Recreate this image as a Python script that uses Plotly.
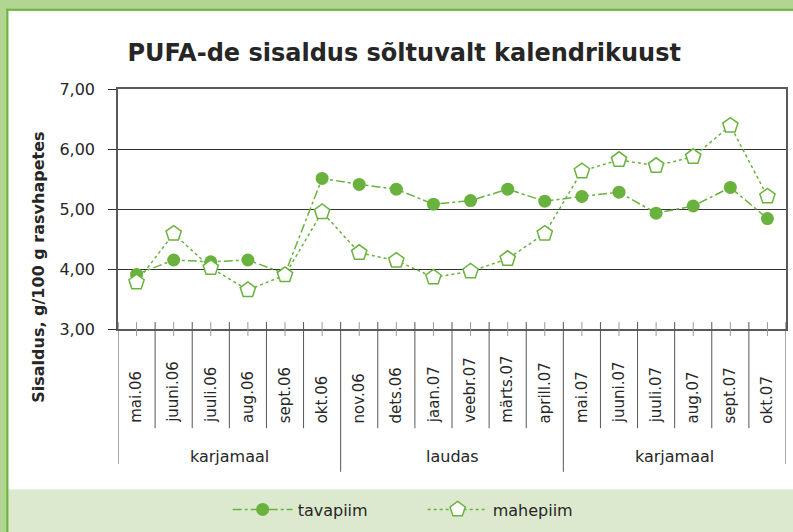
import plotly.graph_objects as go

# PUFA content by calendar month
months = [
    "mai.06", "juuni.06", "juuli.06", "aug.06", "sept.06", "okt.06",
    "nov.06", "dets.06", "jaan.07", "veebr.07", "märts.07", "aprill.07",
    "mai.07", "juuni.07", "juuli.07", "aug.07", "sept.07", "okt.07",
]
tavapiim = [3.91, 4.15, 4.12, 4.15, 3.92, 5.51, 5.41, 5.33, 5.08, 5.14, 5.33, 5.13,
            5.21, 5.28, 4.93, 5.05, 5.36, 4.84]
mahepiim = [3.78, 4.59, 4.02, 3.65, 3.90, 4.95, 4.27, 4.14, 3.86, 3.96, 4.17, 4.59,
            5.63, 5.82, 5.72, 5.87, 6.39, 5.21]
groups = ["karjamaal", "laudas", "karjamaal"]
group_sizes = [6, 6, 6]

GREEN = "#6ab23e"
TEXT = "#262626"
FONT = "DejaVu Sans"

W, H = 793, 532
L, R, T, B = 118, 788, 89, 331  # plot area in pixels


def px(x):
    return (x - L) / (R - L)


def py(y):
    return (B - y) / (B - T)


x_idx = list(range(len(months)))

fig = go.Figure()
fig.add_trace(go.Scatter(
    x=x_idx, y=tavapiim, name="tavapiim", mode="lines+markers",
    line=dict(color=GREEN, width=1.5, dash="dashdot"),
    marker=dict(symbol="circle", size=13, color=GREEN),
))
fig.add_trace(go.Scatter(
    x=x_idx, y=mahepiim, name="mahepiim", mode="lines+markers",
    line=dict(color=GREEN, width=1.5, dash="dot"),
    marker=dict(symbol="pentagon", size=16, color="white",
                line=dict(color=GREEN, width=1.5)),
))

shapes = []
# frame: white card, green borders, legend band
shapes.append(dict(type="rect", xref="paper", yref="paper", layer="below",
                   x0=px(8), x1=px(W + 20), y0=py(10), y1=py(493),
                   fillcolor="white", line=dict(width=0)))
shapes.append(dict(type="rect", xref="paper", yref="paper", layer="below",
                   x0=px(8), x1=px(W + 20), y0=py(493), y1=py(H + 20),
                   fillcolor="#dde9cf", line=dict(width=0)))
shapes.append(dict(type="line", xref="paper", yref="paper", layer="below",
                   x0=px(7), x1=px(7), y0=py(8), y1=py(H + 20),
                   line=dict(color="#6db33f", width=2)))
shapes.append(dict(type="line", xref="paper", yref="paper", layer="below",
                   x0=px(6), x1=px(W + 20), y0=py(9), y1=py(9),
                   line=dict(color="#6db33f", width=2)))

# category ticks and dividers
for i in x_idx:
    shapes.append(dict(type="line", xref="x", yref="paper", x0=i, x1=i,
                       y0=py(324), y1=py(338), line=dict(color="#999999", width=1)))
bounds = [-0.5]
for s in group_sizes:
    bounds.append(bounds[-1] + s)
for i in range(len(months) + 1):
    xb = i - 0.5
    if xb in bounds:
        bottom = 467 if xb in (bounds[0], bounds[-1]) else 475
    else:
        bottom = 431
    shapes.append(dict(type="line", xref="x", yref="paper", x0=xb, x1=xb,
                       y0=py(324), y1=py(bottom), line=dict(color="#555555", width=1)))

annotations = []
for i, m in enumerate(months):
    annotations.append(dict(x=i, y=py(428), xref="x", yref="paper", text=m,
                            textangle=-90, showarrow=False, yanchor="bottom",
                            xanchor="center", font=dict(size=15, color=TEXT, family=FONT)))
for g, a, b in zip(groups, bounds[:-1], bounds[1:]):
    annotations.append(dict(x=(a + b) / 2, y=py(460), xref="x", yref="paper", text=g,
                            showarrow=False, yanchor="middle",
                            font=dict(size=16, color=TEXT, family=FONT)))
annotations.append(dict(x=px(38), y=py(269), xref="paper", yref="paper",
                        xanchor="center", yanchor="middle",
                        text="<b>Sisaldus, g/100 g rasvhapetes</b>", textangle=-90,
                        showarrow=False, font=dict(size=16, color=TEXT, family=FONT)))

fig.update_layout(
    width=W, height=H,
    margin=dict(l=L, r=W - R, t=T, b=H - B),
    paper_bgcolor="#b2d592",
    plot_bgcolor="white",
    separators=", ",
    font=dict(family=FONT, color=TEXT),
    title=dict(text="<b>PUFA-de sisaldus sõltuvalt kalendrikuust</b>",
               font=dict(size=24, color=TEXT, family=FONT),
               xref="paper", x=px(405), xanchor="center",
               yref="container", y=1 - 53 / H, yanchor="middle"),
    xaxis=dict(range=[-0.5, len(months) - 0.5], showticklabels=False, ticks="",
               showgrid=False, zeroline=False, showline=True, mirror=True,
               linecolor="#5a5a5a", linewidth=1.5),
    yaxis=dict(range=[3, 7], dtick=1, tickformat=".2f", ticks="outside", ticklen=8,
               tickcolor="#333333", showgrid=True, gridcolor="#333333", gridwidth=1,
               zeroline=False, showline=True, mirror=True, linecolor="#5a5a5a",
               linewidth=1.5, ticklabelstandoff=10,
               tickfont=dict(size=16, color=TEXT, family=FONT)),
    legend=dict(orientation="h", x=px(228), xanchor="left", y=py(513),
                yanchor="middle", bgcolor="rgba(0,0,0,0)", itemwidth=60,
                entrywidth=120, font=dict(size=16, color=TEXT, family=FONT)),
    shapes=shapes,
    annotations=annotations,
)

fig.write_html("out.html", config={"displayModeBar": False},
               post_script="document.body.style.margin = '0';")
